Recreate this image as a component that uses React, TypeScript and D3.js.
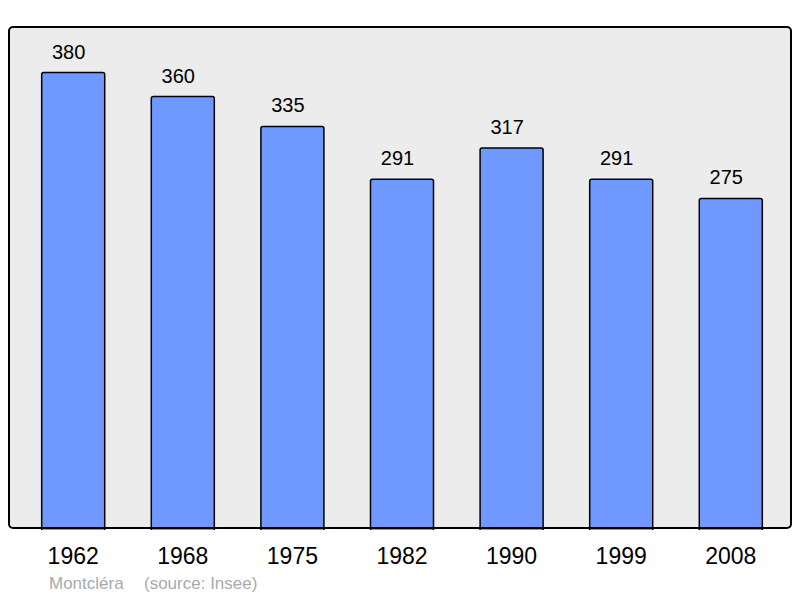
import React, { useEffect, useRef } from 'react';
import * as d3 from 'd3';

const years = ['1962', '1968', '1975', '1982', '1990', '1999', '2008'];
const population = [380, 360, 335, 291, 317, 291, 275];
const townName = 'Montcléra';
const sourceLabel = '(source: Insee)';

const App = () => {
  const ref = useRef<SVGSVGElement>(null);

  useEffect(() => {
    const svg = d3.select(ref.current);
    svg.selectAll('*').remove();

    const width = 800;
    const height = 598;
    const panel = { left: 9, top: 27, right: 791, bottom: 528 };
    const font = 'Liberation Sans, Arial, sans-serif';

    // Panel background
    svg.append('rect')
      .attr('x', panel.left)
      .attr('y', panel.top)
      .attr('width', panel.right - panel.left)
      .attr('height', panel.bottom - panel.top)
      .attr('rx', 4)
      .attr('fill', '#ececec')
      .attr('stroke', 'none');

    const x = d3.scaleBand()
      .domain(years)
      .range([panel.left + 2, panel.right + 2])
      .paddingInner(0.425)
      .paddingOuter(0.28);

    const y = d3.scaleLinear()
      .domain([0, (d3.max(population) as number) * 1.1])
      .range([panel.bottom, panel.top]);

    const data = years.map((yr, i) => ({ year: yr, value: population[i] }));

    // Bars (rounded top corners)
    svg.append('g').selectAll('path')
      .data(data).enter()
      .append('path')
      .attr('d', d => {
        const x0 = x(d.year) as number;
        const x1 = x0 + x.bandwidth();
        const y0 = y(d.value);
        const y1 = y(0) + 2;
        const r = 2;
        return `M${x0},${y1} V${y0 + r} Q${x0},${y0} ${x0 + r},${y0} H${x1 - r} Q${x1},${y0} ${x1},${y0 + r} V${y1}`;
      })
      .attr('fill', '#7099ff')
      .attr('stroke', '#000')
      .attr('stroke-width', 1.5);

    // Value labels
    svg.append('g').selectAll('text')
      .data(data).enter()
      .append('text')
      .attr('x', d => (x(d.year) as number) + x.bandwidth() / 2 - 4.5)
      .attr('y', d => y(d.value) - 14)
      .attr('text-anchor', 'middle')
      .attr('font-family', font)
      .attr('font-size', 20)
      .attr('fill', '#000')
      .text(d => d.value);

    // Panel border on top
    svg.append('rect')
      .attr('x', panel.left)
      .attr('y', panel.top)
      .attr('width', panel.right - panel.left)
      .attr('height', panel.bottom - panel.top)
      .attr('rx', 4)
      .attr('fill', 'none')
      .attr('stroke', '#000')
      .attr('stroke-width', 2);

    // Year labels
    svg.append('g').selectAll('text')
      .data(years).enter()
      .append('text')
      .attr('x', d => (x(d) as number) + x.bandwidth() / 2)
      .attr('y', 564)
      .attr('text-anchor', 'middle')
      .attr('font-family', font)
      .attr('font-size', 23)
      .attr('fill', '#000')
      .text(d => d);

    // Footer
    svg.append('text')
      .attr('x', 49)
      .attr('y', 589)
      .attr('font-family', font)
      .attr('font-size', 17)
      .attr('fill', '#aaaaaa')
      .text(townName);
    svg.append('text')
      .attr('x', 144)
      .attr('y', 589)
      .attr('font-family', font)
      .attr('font-size', 17)
      .attr('fill', '#aaaaaa')
      .text(sourceLabel);

    svg.attr('width', width).attr('height', height);
  }, []);

  return (
    <div style={{ position: 'absolute', left: 0, top: 0 }}>
      <svg ref={ref} style={{ display: 'block' }} />
    </div>
  );
};

export default App;
